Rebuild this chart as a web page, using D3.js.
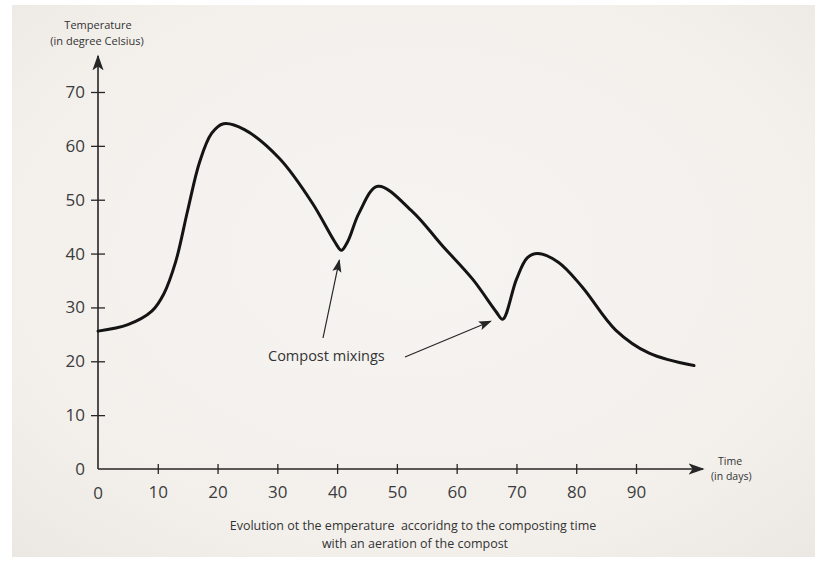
<!DOCTYPE html>
<html>
<head>
<meta charset="utf-8">
<script src="https://cdn.jsdelivr.net/npm/d3@7"></script>
<style>
  body { margin: 0; background: #fff; }
  text { font-family: "Open Sans", "Noto Sans", sans-serif; }
</style>
</head>
<body>
<div id="chart"></div>
<script>
// data
const days  = [0, 5, 9, 11, 13, 15, 17, 19, 21, 24.5, 30.4, 35.9, 39.6, 40.7, 41.8, 43.7, 46.8, 52.6, 57.5, 62.7, 66.6, 67.7, 70, 71.8, 73.5, 77, 81, 86.6, 92.2, 99.7];
const temps = [25.6, 26.8, 29.3, 32.5, 38.5, 48, 57, 62.3, 64.1, 63, 57.6, 49.3, 42.2, 40.6, 42.3, 47.6, 52.5, 47.8, 41.6, 35.2, 29.2, 27.8, 35.2, 39.2, 40, 38.4, 33.8, 25.8, 21.5, 19.2];
const xTicks = [10, 20, 30, 40, 50, 60, 70, 80, 90];
const yTicks = [10, 20, 30, 40, 50, 60, 70];
const mixings = [40.7, 67.7];

const W = 823, H = 567;
const ox = 98, oy = 469; // axis origin in px

const data = days.map((d, i) => ({ t: d, v: temps[i] }));

const x = d3.scaleLinear().domain([0, 90]).range([ox, 636]);
const y = d3.scaleLinear().domain([0, 70]).range([oy, 92]);

const svg = d3.select("#chart").append("svg")
  .attr("width", W).attr("height", H);

// paper background with a soft vignette
const defs = svg.append("defs");
const grad = defs.append("radialGradient").attr("id", "paper")
  .attr("cx", "50%").attr("cy", "45%").attr("r", "75%");
grad.append("stop").attr("offset", "0%").attr("stop-color", "#f6f4f1");
grad.append("stop").attr("offset", "70%").attr("stop-color", "#f3f0ec");
grad.append("stop").attr("offset", "100%").attr("stop-color", "#ebe7e3");
svg.append("rect").attr("x", 12).attr("y", 5).attr("width", 803).attr("height", 552)
  .attr("fill", "url(#paper)");

const ink = "#262626";

// arrow markers (axes and annotation)
defs.append("marker").attr("id", "ah")
  .attr("viewBox", "0 0 10 10").attr("refX", 9).attr("refY", 5)
  .attr("markerWidth", 16).attr("markerHeight", 16).attr("orient", "auto")
  .attr("markerUnits", "userSpaceOnUse")
  .append("path").attr("d", "M0,1.5 L10,5 L0,8.5 L2.5,5 Z").attr("fill", ink);
defs.append("marker").attr("id", "ahs")
  .attr("viewBox", "0 0 10 10").attr("refX", 9).attr("refY", 5)
  .attr("markerWidth", 13).attr("markerHeight", 13).attr("orient", "auto")
  .attr("markerUnits", "userSpaceOnUse")
  .append("path").attr("d", "M0,1.5 L10,5 L0,8.5 L2,5 Z").attr("fill", ink);

// x axis
const xAxis = svg.append("g").attr("transform", `translate(0,${oy})`)
  .call(d3.axisBottom(x).tickValues(xTicks).tickSize(5).tickPadding(12));
xAxis.select(".domain").remove();
xAxis.selectAll(".tick line").attr("y1", -5).attr("y2", 5)
  .attr("stroke", ink).attr("stroke-width", 1.3);
xAxis.selectAll(".tick text").attr("font-size", 17).attr("fill", "#3c3c3c");
svg.append("text").attr("x", ox).attr("y", 499).attr("text-anchor", "middle")
  .attr("font-size", 17).attr("fill", "#3c3c3c").text("0");
svg.append("line").attr("x1", ox).attr("y1", oy).attr("x2", 703).attr("y2", oy)
  .attr("stroke", ink).attr("stroke-width", 1.6).attr("marker-end", "url(#ah)");

// y axis
const yAxis = svg.append("g").attr("transform", `translate(${ox},0)`)
  .call(d3.axisLeft(y).tickValues(yTicks).tickSize(7).tickPadding(8));
yAxis.select(".domain").remove();
yAxis.selectAll(".tick line").attr("x1", -7).attr("x2", 7)
  .attr("stroke", ink).attr("stroke-width", 1.3);
yAxis.selectAll(".tick text").attr("font-size", 17).attr("fill", "#3c3c3c").attr("x", -13);
svg.append("text").attr("x", 85).attr("y", oy + 6).attr("text-anchor", "end")
  .attr("font-size", 17).attr("fill", "#3c3c3c").text("0");
svg.append("line").attr("x1", ox).attr("y1", oy).attr("x2", ox).attr("y2", 56)
  .attr("stroke", ink).attr("stroke-width", 1.6).attr("marker-end", "url(#ah)");

// axis titles
svg.append("text").attr("x", 98).attr("y", 29).attr("text-anchor", "middle")
  .attr("font-size", 11).attr("fill", "#333").text("Temperature");
svg.append("text").attr("x", 97).attr("y", 45).attr("text-anchor", "middle")
  .attr("font-size", 11).attr("fill", "#333").text("(in degree Celsius)");
svg.append("text").attr("x", 718).attr("y", 465)
  .attr("font-size", 10.5).attr("fill", "#333").text("Time");
svg.append("text").attr("x", 711).attr("y", 480)
  .attr("font-size", 10.5).attr("fill", "#333").text("(in days)");

// temperature curve
const line = d3.line().x(d => x(d.t)).y(d => y(d.v)).curve(d3.curveCatmullRom.alpha(0.5));
svg.append("path").datum(data).attr("d", line)
  .attr("fill", "none").attr("stroke", "#141414").attr("stroke-width", 3)
  .attr("stroke-linejoin", "round").attr("stroke-linecap", "round");

// annotation
svg.append("text").attr("x", 268).attr("y", 361)
  .attr("font-size", 14.5).attr("fill", "#333").text("Compost mixings");
const tails = [[323, 338], [405, 357]];
mixings.forEach((m, i) => {
  const v = temps[days.indexOf(m)];
  const tip = i === 0 ? [x(m) - 2, y(v) + 10] : [x(m) - 12, y(v) + 2];
  svg.append("line").attr("x1", tails[i][0]).attr("y1", tails[i][1])
    .attr("x2", tip[0]).attr("y2", tip[1])
    .attr("stroke", ink).attr("stroke-width", 1.2).attr("marker-end", "url(#ahs)");
});

// caption
svg.append("text").attr("x", 413).attr("y", 530).attr("text-anchor", "middle")
  .attr("font-size", 12.5).attr("fill", "#333").style("white-space", "pre")
  .text("Evolution ot the emperature  accoridng to the composting time");
svg.append("text").attr("x", 415).attr("y", 548).attr("text-anchor", "middle")
  .attr("font-size", 12.5).attr("fill", "#333").text("with an aeration of the compost");
</script>
</body>
</html>
